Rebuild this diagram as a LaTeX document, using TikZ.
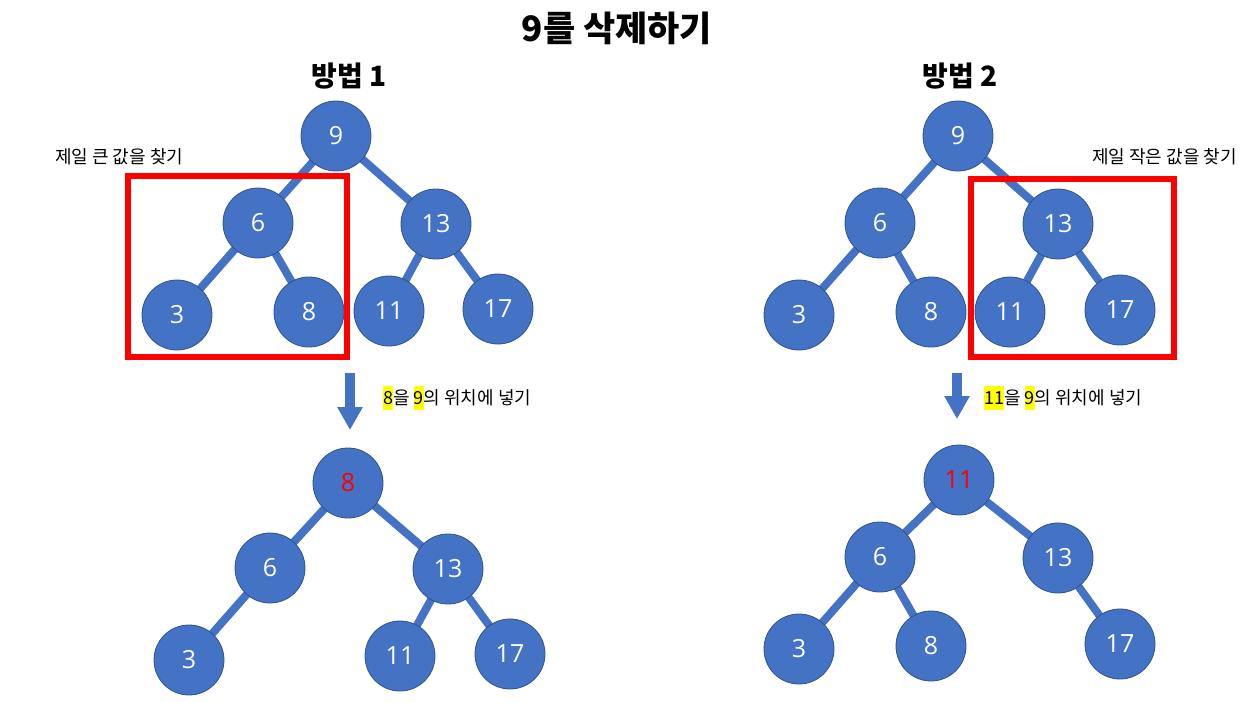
\documentclass[tikz,border=0pt]{standalone}
\usepackage{fontspec}
\setmainfont{Noto Sans CJK KR}
\newfontfamily\numfont{Open Sans}
\usetikzlibrary{arrows.meta}
\pgfdeclarelayer{background}
\pgfsetlayers{background,main}
\definecolor{nodeblue}{HTML}{4472C4}
\definecolor{nodeedge}{HTML}{2F528F}
\definecolor{hiyellow}{HTML}{FFFF00}
\newcommand\hlmark[1]{{\setlength\fboxsep{0pt}\colorbox{hiyellow}{\rule[-6pt]{0pt}{24pt}#1}}}
\tikzset{
  tn/.style={circle, fill=nodeblue, draw=nodeedge, line width=0.8pt, minimum size=70pt, inner sep=0pt, text=white, font=\numfont\fontsize{25}{29}\selectfont},
  te/.style={draw=nodeblue, line width=8pt},
  redbox/.style={draw=red, line width=6pt},
  downarrow/.style={draw=nodeblue, line width=10pt, -{Triangle[width=24pt,length=23pt]}},
  lbl/.style={inner sep=0pt, font=\fontsize{18}{21}\selectfont},
  hd/.style={inner sep=0pt, font=\bfseries\fontsize{28}{32}\selectfont},
}
\begin{document}
\begin{tikzpicture}[x=1pt,y=-1pt]
\useasboundingbox (0,0) rectangle (1253,702);
\node[inner sep=0pt, font=\bfseries\fontsize{35}{40}\selectfont] (title) at (617,28) {9를 삭제하기};
\node[hd] (h1) at (349,76) {방법 1};
\node[hd] (h2) at (960,76) {방법 2};
% method 1 top
\node[tn] (a9) at (336,136) {9};
\node[tn] (a6) at (258,223) {6};
\node[tn] (a13) at (436,224) {13};
\node[tn] (a3) at (177,315) {3};
\node[tn] (a8) at (309,312) {8};
\node[tn] (a11) at (389,311) {11};
\node[tn] (a17) at (498,309) {17};
% method 2 top
\node[tn] (b9) at (958,136) {9};
\node[tn] (b6) at (880,223) {6};
\node[tn] (b13) at (1058,224) {13};
\node[tn] (b3) at (799,315) {3};
\node[tn] (b8) at (931,312) {8};
\node[tn] (b11) at (1010,312) {11};
\node[tn] (b17) at (1120,310) {17};
% method 1 bottom
\node[tn, text=red] (c8) at (348,483) {8};
\node[tn] (c6) at (270,568) {6};
\node[tn] (c13) at (448,569) {13};
\node[tn] (c3) at (189,660) {3};
\node[tn] (c11) at (400,656) {11};
\node[tn] (c17) at (510,654) {17};
% method 2 bottom
\node[tn, text=red] (d11) at (959,480) {11};
\node[tn] (d6) at (880,557) {6};
\node[tn] (d13) at (1058,558) {13};
\node[tn] (d3) at (799,649) {3};
\node[tn] (d8) at (931,646) {8};
\node[tn] (d17) at (1120,644) {17};
% edges behind nodes
\begin{pgfonlayer}{background}
\foreach \p/\c in {a9/a6,a9/a13,a6/a3,a6/a8,a13/a11,a13/a17,
                   b9/b6,b9/b13,b6/b3,b6/b8,b13/b11,b13/b17,
                   c8/c6,c8/c13,c6/c3,c13/c11,c13/c17,
                   d11/d6,d11/d13,d6/d3,d6/d8,d13/d17}
  \draw[te] (\p.center) -- (\c.center);
\end{pgfonlayer}
% red boxes
\coordinate (r1a) at (128,176);
\coordinate (r1b) at (347,357);
\draw[redbox] (r1a) rectangle (r1b);
\coordinate (r2a) at (971,179);
\coordinate (r2b) at (1174,357);
\draw[redbox] (r2a) rectangle (r2b);
% labels
\node[lbl, anchor=west] (l1) at (55,157) {제일 큰 값을 찾기};
\node[lbl, anchor=east] (l2) at (1237,157) {제일 작은 값을 찾기};
% arrows
\coordinate (ar1s) at (350,373);
\coordinate (ar1e) at (350,430);
\draw[downarrow] (ar1s) -- (ar1e);
\coordinate (ar2s) at (957,373);
\coordinate (ar2e) at (957,419);
\draw[downarrow] (ar2s) -- (ar2e);
\node[lbl, anchor=west] (t1) at (383,398) {\hlmark{8}을 \hlmark{9}의 위치에 넣기};
\node[lbl, anchor=west] (t2) at (984,398) {\hlmark{11}을 \hlmark{9}의 위치에 넣기};
\end{tikzpicture}
\end{document}
